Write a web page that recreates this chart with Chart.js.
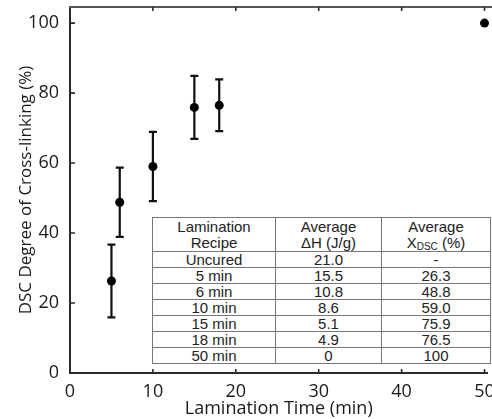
<!DOCTYPE html>
<html><head><meta charset="utf-8">
<script src="https://cdn.jsdelivr.net/npm/chart.js@4.4.0/dist/chart.umd.min.js"></script>
<style>
html,body{margin:0;padding:0;background:#fff;overflow:hidden;}
#wrap{position:relative;width:492px;height:419px;overflow:hidden;}
canvas{display:block;}
#tbl{position:absolute;left:152px;top:217px;border-collapse:collapse;font-family:"Liberation Sans",Arial,sans-serif;font-size:15px;color:#222;background:#fff;table-layout:fixed;}
#tbl td{border:1px solid #777;text-align:center;padding:0;height:15px;line-height:15px;white-space:nowrap;overflow:hidden;}
#tbl tr.hd td{height:33px;line-height:16px;}
#tbl sub{font-size:10px;vertical-align:-2px;line-height:0;}
</style></head>
<body>
<div id="wrap"><canvas id="c" width="492" height="419"></canvas><table id="tbl"></table></div>
<script>
// ---- data ----
const times = [5, 6, 10, 15, 18, 50];
const crosslink = [26.3, 48.8, 59.0, 75.9, 76.5, 100];
const errors = [10.4, 9.9, 9.9, 9.0, 7.4, 0];
const xTicks = [0, 10, 20, 30, 40, 50];
const yTicks = [0, 20, 40, 60, 80, 100];
const recipes = ["Uncured", "5 min", "6 min", "10 min", "15 min", "18 min", "50 min"];
const avgDH = ["21.0", "15.5", "10.8", "8.6", "5.1", "4.9", "0"];
const avgX = ["-", "26.3", "48.8", "59.0", "75.9", "76.5", "100"];

// ---- table ----
const tbl = document.getElementById('tbl');
const cg = document.createElement('colgroup');
[123, 106, 109].forEach(w => { const c = document.createElement('col'); c.style.width = w + 'px'; cg.appendChild(c); });
tbl.appendChild(cg);
const hd = tbl.insertRow(); hd.className = 'hd';
hd.insertCell().innerHTML = 'Lamination<br>Recipe';
hd.insertCell().innerHTML = 'Average<br>ΔH (J/g)';
hd.insertCell().innerHTML = 'Average<br>X<sub>DSC</sub> (%)';
recipes.forEach((r, i) => {
  const tr = tbl.insertRow();
  tr.insertCell().textContent = r;
  tr.insertCell().textContent = avgDH[i];
  tr.insertCell().textContent = avgX[i];
});

// ---- chart ----
const axisColor = '#2a2a2a';
const decor = {
  id: 'decor',
  beforeDatasetsDraw(chart) {
    const ctx = chart.ctx, xs = chart.scales.x, ys = chart.scales.y;
    ctx.save();
    ctx.strokeStyle = '#111';
    ctx.lineWidth = 2.2;
    times.forEach((t, i) => {
      const e = errors[i];
      if (!e) return;
      const px = xs.getPixelForValue(t);
      const top = ys.getPixelForValue(crosslink[i] + e);
      const bot = ys.getPixelForValue(crosslink[i] - e);
      ctx.beginPath();
      ctx.moveTo(px, top); ctx.lineTo(px, bot);
      ctx.moveTo(px - 4, top); ctx.lineTo(px + 4, top);
      ctx.moveTo(px - 4, bot); ctx.lineTo(px + 4, bot);
      ctx.stroke();
    });
    ctx.restore();
  },
  afterDraw(chart) {
    const ctx = chart.ctx, xs = chart.scales.x, ys = chart.scales.y, a = chart.chartArea;
    ctx.save();
    ctx.strokeStyle = '#555';
    ctx.lineWidth = 2;
    ctx.beginPath();
    ctx.moveTo(a.left - 1, a.top); ctx.lineTo(chart.width, a.top);
    ctx.stroke();
    ctx.strokeStyle = axisColor;
    ctx.lineWidth = 1.6;
    ctx.beginPath();
    xTicks.forEach(v => {
      if (v === 0) return;
      const px = xs.getPixelForValue(v);
      ctx.moveTo(px, a.bottom); ctx.lineTo(px, a.bottom - 4);
      ctx.moveTo(px, a.top); ctx.lineTo(px, a.top + 4);
    });
    yTicks.forEach(v => {
      if (v === 0) return;
      const py = ys.getPixelForValue(v);
      ctx.moveTo(a.left, py); ctx.lineTo(a.left + 5, py);
    });
    ctx.stroke();
    ctx.restore();
  }
};

const fontFam = '"Open Sans", "Noto Sans", sans-serif';
new Chart(document.getElementById('c'), {
  type: 'scatter',
  data: {
    datasets: [{
      data: times.map((t, i) => ({ x: t, y: crosslink[i] })),
      pointRadius: 4.5,
      pointHoverRadius: 4.5,
      backgroundColor: '#000',
      borderWidth: 0,
      showLine: false,
      clip: false
    }]
  },
  options: {
    responsive: false,
    animation: false,
    events: [],
    layout: { padding: { top: 7, left: 0, right: 0, bottom: 0 } },
    plugins: { legend: { display: false }, tooltip: { enabled: false } },
    scales: {
      x: {
        type: 'linear', min: 0, max: 50.36,
        grid: { display: false },
        border: { display: true, color: axisColor, width: 2 },
        ticks: {
          stepSize: 10, includeBounds: false, padding: 0,
          color: '#1a1a1a', font: { family: fontFam, size: 18 }, maxRotation: 0
        },
        title: { display: true, text: 'Lamination Time (min)', color: '#1a1a1a', font: { family: fontFam, size: 18 }, padding: { top: 0, bottom: -1 } },
        afterFit(s) { s.height = 46; s.paddingLeft = 0; s.paddingRight = 0; }
      },
      y: {
        type: 'linear', min: 0, max: 104.6,
        grid: { display: false },
        border: { display: true, color: axisColor, width: 2 },
        ticks: {
          stepSize: 20, includeBounds: false, padding: 3,
          color: '#1a1a1a', font: { family: fontFam, size: 18 }
        },
        title: { display: true, text: 'DSC Degree of Cross-linking (%)', color: '#1a1a1a', font: { family: fontFam, size: 17 }, padding: { top: 16, bottom: 0 } },
        afterFit(s) { s.width = 70; s.paddingTop = 0; s.paddingBottom = 0; }
      }
    }
  },
  plugins: [decor]
});
</script>
</body></html>
